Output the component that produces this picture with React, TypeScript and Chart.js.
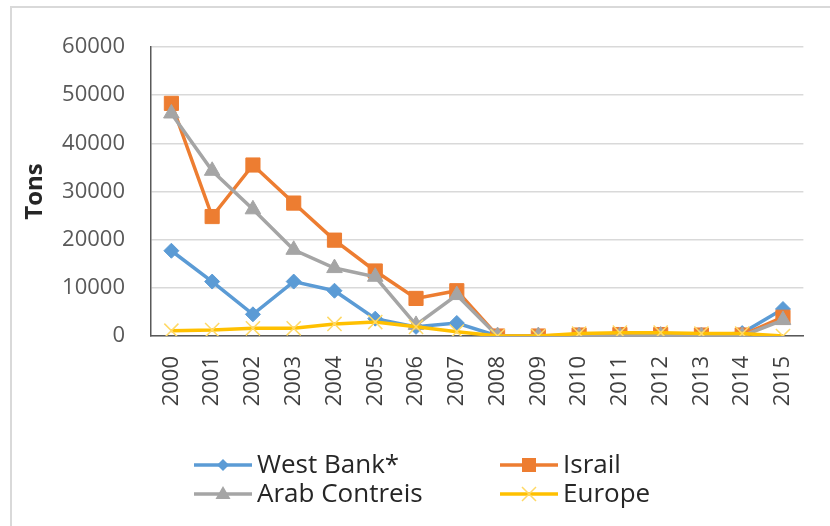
import React, { useEffect, useRef } from 'react';
import { Chart, registerables } from 'chart.js';
Chart.register(...registerables);

const years = ['2000', '2001', '2002', '2003', '2004', '2005', '2006', '2007', '2008', '2009', '2010', '2011', '2012', '2013', '2014', '2015'];
const westBank = [17700, 11300, 4500, 11300, 9400, 3600, 1900, 2700, 0, 0, 0, 0, 0, 0, 600, 5600];
const israil = [48300, 24800, 35500, 27600, 19900, 13500, 7800, 9400, 0, 0, 200, 300, 300, 200, 200, 3900];
const arab = [46200, 34300, 26300, 17900, 14100, 12300, 2300, 8500, 0, 0, 0, 0, 100, 0, 0, 3300];
const europe = [1100, 1250, 1600, 1600, 2500, 2900, 1900, 900, 0, 0, 500, 700, 700, 500, 500, 0];
const seriesNames = ['West Bank*', 'Israil', 'Arab Contreis', 'Europe'];
const yTickMax = 60000;
const yTickStep = 10000;
const yTitle = 'Tons';

const FONT = "'Open Sans', sans-serif";

const legendPlugin = {
  id: 'customLegend',
  afterDraw(chart: any) {
    const ctx = chart.ctx;
    const slots = [
      { x: 194, y: 465 },
      { x: 500, y: 465 },
      { x: 194, y: 494 },
      { x: 500, y: 494 },
    ];
    chart.data.datasets.forEach((ds: any, i: number) => {
      const s = slots[i];
      ctx.save();
      ctx.strokeStyle = ds.borderColor;
      ctx.lineWidth = 3.5;
      ctx.beginPath();
      ctx.moveTo(s.x, s.y);
      ctx.lineTo(s.x + 58, s.y);
      ctx.stroke();
      const cx = s.x + 29;
      const cy = s.y;
      ctx.fillStyle = ds.pointBackgroundColor;
      ctx.strokeStyle = ds.pointBorderColor;
      ctx.lineWidth = ds.pointBorderWidth;
      ctx.beginPath();
      const st = ds.pointStyle;
      if (st === 'rect') {
        ctx.rect(cx - 7, cy - 7, 14, 14);
        ctx.fill();
      } else if (st === 'rectRot') {
        ctx.moveTo(cx, cy - 6);
        ctx.lineTo(cx + 6, cy);
        ctx.lineTo(cx, cy + 6);
        ctx.lineTo(cx - 6, cy);
        ctx.closePath();
        ctx.fill();
      } else if (st === 'triangle') {
        ctx.moveTo(cx, cy - 8);
        ctx.lineTo(cx + 7.5, cy + 5);
        ctx.lineTo(cx - 7.5, cy + 5);
        ctx.closePath();
        ctx.fill();
      } else {
        ctx.moveTo(cx - 7, cy - 7);
        ctx.lineTo(cx + 7, cy + 7);
        ctx.moveTo(cx + 7, cy - 7);
        ctx.lineTo(cx - 7, cy + 7);
        ctx.stroke();
      }
      ctx.fillStyle = '#262626';
      ctx.font = `26px ${FONT}`;
      ctx.textAlign = 'left';
      ctx.textBaseline = 'middle';
      ctx.fillText(ds.label, s.x + 63, s.y + 1);
      ctx.restore();
    });
  },
};

export default function App() {
  const ref = useRef<HTMLCanvasElement>(null);
  useEffect(() => {
    const chart = new Chart(ref.current as HTMLCanvasElement, {
      type: 'line',
      data: {
        labels: years,
        datasets: [
          {
            label: seriesNames[0],
            data: westBank,
            borderColor: '#5B9BD5',
            backgroundColor: '#5B9BD5',
            pointBackgroundColor: '#5B9BD5',
            pointBorderColor: '#5B9BD5',
            pointBorderWidth: 1,
            pointStyle: 'rectRot',
            pointRadius: 7.5,
            borderWidth: 3.5,
            order: 4,
          },
          {
            label: seriesNames[1],
            data: israil,
            borderColor: '#ED7D31',
            backgroundColor: '#ED7D31',
            pointBackgroundColor: '#ED7D31',
            pointBorderColor: '#ED7D31',
            pointBorderWidth: 1,
            pointStyle: 'rect',
            pointRadius: 10,
            borderWidth: 3.5,
            order: 3,
          },
          {
            label: seriesNames[2],
            data: arab,
            borderColor: '#A5A5A5',
            backgroundColor: '#A5A5A5',
            pointBackgroundColor: '#A5A5A5',
            pointBorderColor: '#A5A5A5',
            pointBorderWidth: 1,
            pointStyle: 'triangle',
            pointRadius: 9,
            borderWidth: 3.5,
            order: 2,
          },
          {
            label: seriesNames[3],
            data: europe,
            borderColor: '#FFC000',
            backgroundColor: '#FFC000',
            pointBackgroundColor: '#FFC000',
            pointBorderColor: '#FFD966',
            pointBorderWidth: 1.5,
            pointStyle: 'crossRot',
            pointRadius: 10,
            borderWidth: 3.5,
            order: 1,
          },
        ],
      },
      options: {
        responsive: false,
        animation: false,
        devicePixelRatio: 1,
        layout: { padding: { left: 12, right: 20, top: 47, bottom: 0 } },
        plugins: {
          legend: { display: false },
          tooltip: { enabled: false },
        },
        scales: {
          x: {
            offset: true,
            grid: { display: false, drawTicks: false },
            border: { display: true, color: '#595959', width: 1.5 },
            ticks: {
              autoSkip: false,
              minRotation: 90,
              maxRotation: 90,
              padding: 20,
              color: '#404040',
              font: { family: FONT, size: 22 },
            },
            afterFit: (scale: any) => {
              scale.height = 190;
            },
          },
          y: {
            min: 0,
            max: yTickMax,
            ticks: {
              stepSize: yTickStep,
              padding: 26,
              color: '#595959',
              font: { family: FONT, size: 22 },
              callback: (v: any) => String(v),
            },
            grid: { color: '#d9d9d9', lineWidth: 1.5, drawTicks: false },
            border: { display: true, color: '#595959', width: 1.5 },
            title: {
              display: true,
              text: yTitle,
              color: '#262626',
              font: { family: FONT, size: 24, weight: 'bold' },
              padding: { top: 9, bottom: 0 },
            },
            afterFit: (scale: any) => {
              scale.width = 139;
            },
          },
        },
      },
      plugins: [legendPlugin],
    } as any);
    return () => chart.destroy();
  }, []);
  return (
    <div style={{ position: 'absolute', left: 0, top: 0, width: 830, height: 526, background: '#fff', overflow: 'hidden' }}>
      <div style={{ position: 'absolute', left: 10, top: 6, width: 840, height: 540, borderLeft: '2px solid #d9d9d9', borderTop: '2px solid #d9d9d9' }} />
      <canvas ref={ref} width={830} height={526} style={{ position: 'absolute', left: 0, top: 0, width: 830, height: 526 }} />
    </div>
  );
}
